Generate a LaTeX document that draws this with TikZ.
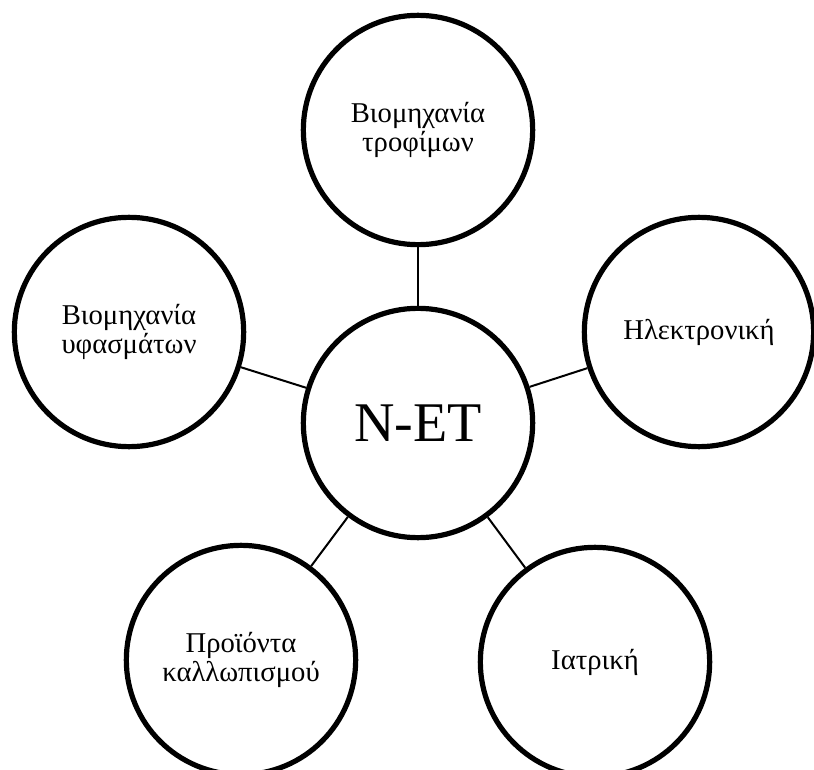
\documentclass[tikz,border=0pt]{standalone}
\usepackage{fontspec}
\setmainfont{Liberation Serif}
\begin{document}
\begin{tikzpicture}[x=0.75pt,y=-0.75pt,
  bubble/.style={circle,draw=black,line width=3.9pt,minimum size=172pt,inner sep=0pt,align=center,font=\fontsize{21.5}{22}\selectfont},
  link/.style={line width=1.5pt}]
\useasboundingbox (0,0) rectangle (814,770);
\node[bubble,font=\fontsize{42}{46}\selectfont] (c) at (418,423) {N-ET};
\node[bubble] (t) at (418,130) {Βιομηχανία\\τροφίμων};
\node[bubble] (l) at (129,332) {Βιομηχανία\\υφασμάτων};
\node[bubble] (r) at (699,332) {Ηλεκτρονική};
\node[bubble] (bl) at (241,660) {Προϊόντα\\καλλωπισμού};
\node[bubble] (br) at (595,662) {Ιατρική};
\draw[link] (c) -- (t);
\draw[link] (c) -- (l);
\draw[link] (c) -- (r);
\draw[link] (c) -- (bl);
\draw[link] (c) -- (br);
\end{tikzpicture}
\end{document}
